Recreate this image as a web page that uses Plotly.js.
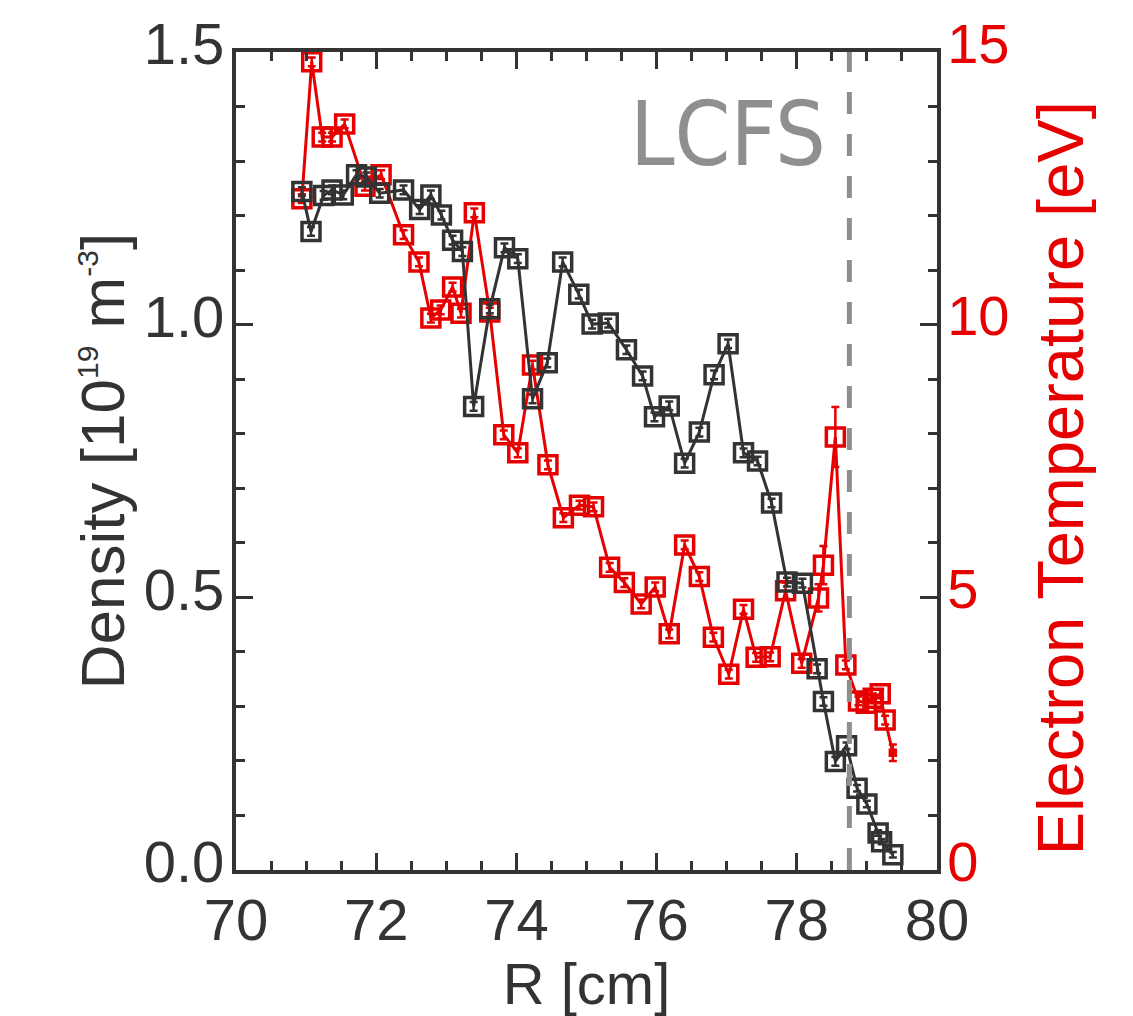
<!DOCTYPE html>
<html>
<head>
<meta charset="utf-8">
<script src="https://cdn.plot.ly/plotly-3.0.1.min.js"></script>
<style>
  html, body { margin: 0; padding: 0; background: #ffffff; }
  #chart { width: 1133px; height: 1016px; }
</style>
</head>
<body>
<div id="chart"></div>
<script>
// ---- Density profile (black, left axis) ----
const R_density = [70.94, 71.07, 71.25, 71.37, 71.53, 71.72, 71.86, 72.05, 72.39, 72.62,
                   72.78, 72.93, 73.09, 73.23, 73.39, 73.62, 73.83, 74.02, 74.23, 74.44,
                   74.66, 74.89, 75.08, 75.31, 75.57, 75.80, 75.97, 76.18, 76.40, 76.61,
                   76.82, 77.02, 77.24, 77.44, 77.64, 77.86, 78.08, 78.29, 78.38, 78.55,
                   78.71, 78.86, 79.00, 79.16, 79.21, 79.37];
const density   = [1.244, 1.171, 1.237, 1.247, 1.238, 1.275, 1.271, 1.241, 1.247, 1.211,
                   1.238, 1.201, 1.155, 1.134, 0.850, 1.029, 1.141, 1.121, 0.864, 0.930,
                   1.115, 1.056, 1.001, 1.003, 0.954, 0.906, 0.831, 0.851, 0.746, 0.803,
                   0.908, 0.965, 0.765, 0.750, 0.673, 0.528, 0.526, 0.369, 0.309, 0.199,
                   0.228, 0.150, 0.121, 0.068, 0.052, 0.028];
const density_err = [0.008, 0.008, 0.008, 0.008, 0.008, 0.008, 0.008, 0.008, 0.008, 0.008,
                     0.008, 0.008, 0.008, 0.008, 0.008, 0.008, 0.008, 0.008, 0.008, 0.008,
                     0.008, 0.008, 0.008, 0.008, 0.008, 0.008, 0.008, 0.008, 0.008, 0.008,
                     0.008, 0.008, 0.008, 0.008, 0.008, 0.008, 0.008, 0.008, 0.008, 0.008,
                     0.006, 0.006, 0.006, 0.005, 0.005, 0.005];

// ---- Electron temperature profile (red, right axis) ----
const R_temp = [70.94, 71.08, 71.23, 71.37, 71.55, 71.84, 72.07, 72.39, 72.61, 72.78,
                72.92, 73.09, 73.21, 73.40, 73.62, 73.82, 74.02, 74.23, 74.45, 74.67,
                74.90, 75.10, 75.33, 75.54, 75.78, 75.98, 76.18, 76.40, 76.61, 76.81,
                77.03, 77.24, 77.42, 77.62, 77.84, 78.07, 78.31, 78.38, 78.55, 78.70,
                78.88, 78.99, 79.09, 79.19, 79.26, 79.37];
const temperature = [12.31, 14.82, 13.44, 13.44, 13.68, 12.54, 12.75, 11.65, 11.15, 10.12,
                     10.27, 10.69, 10.21, 12.05, 10.23, 7.98, 7.65, 9.26, 7.43, 6.46,
                     6.69, 6.66, 5.55, 5.27, 4.88, 5.19, 4.33, 5.96, 5.38, 4.27,
                     3.59, 4.78, 3.90, 3.91, 5.12, 3.79, 4.99, 5.59, 7.94, 3.76,
                     3.10, 3.06, 3.15, 3.23, 2.75, 2.15];
const temperature_err = [0.08, 0.08, 0.08, 0.08, 0.08, 0.08, 0.08, 0.08, 0.08, 0.08,
                         0.08, 0.08, 0.08, 0.08, 0.08, 0.08, 0.08, 0.08, 0.08, 0.08,
                         0.08, 0.08, 0.08, 0.08, 0.08, 0.08, 0.08, 0.08, 0.08, 0.08,
                         0.08, 0.08, 0.08, 0.08, 0.15, 0.08, 0.25, 0.35, 0.55, 0.08,
                         0.08, 0.08, 0.08, 0.08, 0.08, 0.15];
const temperature_marker = [18, 18, 18, 18, 18, 18, 18, 18, 18, 18,
                            18, 18, 18, 18, 18, 18, 18, 18, 18, 18,
                            18, 18, 18, 18, 18, 18, 18, 18, 18, 18,
                            18, 18, 18, 18, 18, 18, 18, 18, 18, 18,
                            18, 18, 18, 18, 18, 5];

const LCFS_R = 78.75;
const xTickVals = [70, 72, 74, 76, 78, 80];

const DARK = '#333333';
const RED = '#e60000';
const GRAY = '#8f8f8f';
const FONT = 'Liberation Sans, Arial, Helvetica, sans-serif';

const tempTrace = {
  x: R_temp, y: temperature, yaxis: 'y',
  type: 'scatter', mode: 'lines+markers',
  line: {color: RED, width: 3},
  marker: {symbol: 'square-open', size: temperature_marker, opacity: 1, color: RED, line: {color: RED, width: 3.5}},
  error_y: {type: 'data', array: temperature_err, visible: true, color: RED, thickness: 2.5, width: 4},
  hoverinfo: 'x+y'
};

const densTrace = {
  x: R_density, y: density, yaxis: 'y2',
  type: 'scatter', mode: 'lines+markers',
  line: {color: DARK, width: 3},
  marker: {symbol: 'square-open', size: 18, opacity: 1, color: DARK, line: {color: DARK, width: 3.5}},
  error_y: {type: 'data', array: density_err, visible: true, color: DARK, thickness: 2.5, width: 4},
  hoverinfo: 'x+y'
};

const layout = {
  width: 1133, height: 1016,
  margin: {l: 236, r: 196, t: 52, b: 146, pad: 0},
  paper_bgcolor: '#ffffff', plot_bgcolor: '#ffffff',
  showlegend: false,
  font: {family: FONT, color: DARK},
  xaxis: {
    range: [70, 80], tickvals: xTickVals, ticktext: xTickVals.map(String),
    ticks: 'inside', ticklen: 17, tickwidth: 3, tickcolor: DARK,
    minor: {dtick: 0.5, tick0: 70, ticks: 'inside', ticklen: 9, tickwidth: 3, tickcolor: DARK},
    showline: true, linewidth: 4, linecolor: DARK, mirror: 'ticks',
    showgrid: false, zeroline: false,
    tickfont: {family: FONT, size: 58, color: DARK},
    ticklabelstandoff: -4,
    title: {text: 'R [cm]', font: {family: FONT, size: 58, color: DARK}, standoff: 34}
  },
  yaxis: {
    range: [0, 15], side: 'right', tickvals: [0, 5, 10, 15],
    ticks: 'inside', ticklen: 17, tickwidth: 3, tickcolor: DARK,
    minor: {dtick: 1, tick0: 0, ticks: 'inside', ticklen: 9, tickwidth: 3, tickcolor: DARK},
    showline: true, linewidth: 4, linecolor: DARK,
    showgrid: false, zeroline: false,
    tickfont: {family: FONT, size: 56, color: RED},
    ticklabelstandoff: -5,
    ticklabelshift: -9
  },
  yaxis2: {
    range: [0, 1.5], side: 'left', overlaying: 'y', tickvals: [0, 0.5, 1.0, 1.5], tickformat: '.1f',
    ticks: 'inside', ticklen: 17, tickwidth: 3, tickcolor: DARK,
    minor: {dtick: 0.1, tick0: 0, ticks: 'inside', ticklen: 9, tickwidth: 3, tickcolor: DARK},
    showline: true, linewidth: 4, linecolor: DARK,
    showgrid: false, zeroline: false,
    tickfont: {family: FONT, size: 58, color: DARK},
    ticklabelstandoff: -4,
    ticklabelshift: -8,
    title: {text: 'Density [10<sup><span style="font-size:30px">19</span></sup> m<sup><span style="font-size:30px">-3</span></sup>]',
            font: {family: FONT, size: 62, color: DARK}, standoff: 0}
  },
  shapes: [{
    type: 'line', xref: 'x', yref: 'paper', x0: LCFS_R, x1: LCFS_R, y0: 0, y1: 1,
    line: {color: GRAY, width: 5, dash: '22px,20px'}, layer: 'above'
  }],
  annotations: [{
    xref: 'x', yref: 'y2', x: 77.02, y: 1.35, text: 'LCFS', showarrow: false,
    font: {family: 'DejaVu Sans Condensed, DejaVu Sans, sans-serif', size: 89, color: GRAY}
  }, {
    xref: 'paper', yref: 'paper', x: 1.1755, y: 0.479, xanchor: 'center', yanchor: 'middle',
    text: 'Electron Temperature [eV]', textangle: -90, showarrow: false,
    font: {family: FONT, size: 65, color: RED}
  }]
};

Plotly.newPlot('chart', [tempTrace, densTrace], layout, {displayModeBar: false, staticPlot: true});
</script>
</body>
</html>
